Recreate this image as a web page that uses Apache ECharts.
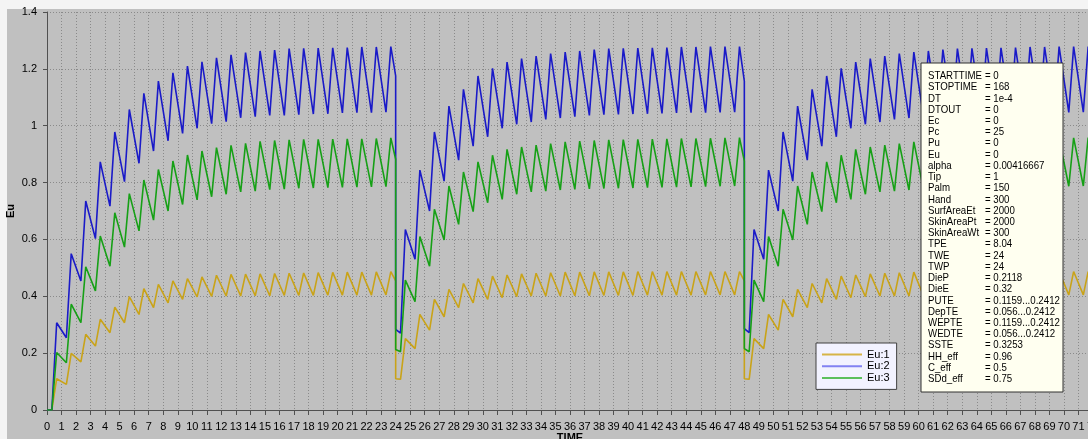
<!DOCTYPE html>
<html>
<head>
<meta charset="utf-8">
<script src="https://cdn.jsdelivr.net/npm/echarts@6/dist/echarts.min.js"></script>
<style>
  html, body { margin: 0; padding: 0; width: 1088px; height: 439px; overflow: hidden; background: #f4f4f4; }
  #chart { position: absolute; left: 0; top: 0; width: 1110px; height: 439px; }
</style>
</head>
<body>
<div id="chart"></div>
<script>
// ---- Data (Eu vs TIME, three 24 h days) ----
// Each day: value at day start, troughs at k+1/3 h, peaks at k+2/3 h (k = 0..23), value at day end
const seriesNames = ['Eu:1', 'Eu:2', 'Eu:3'];
const dayStarts = [0, 24, 48];
const xTicks = { min: 0, max: 72, interval: 1 };
const yTicks = { min: 0, max: 1.4, interval: 0.2 };

// Eu:1 (yellow)
const eu1Day1Start = 0;
const eu1Day1Troughs = [0, 0.090, 0.169, 0.225, 0.272, 0.307, 0.336, 0.360, 0.377, 0.389, 0.398, 0.400, 0.401, 0.401, 0.402, 0.402, 0.403, 0.403, 0.403, 0.404, 0.404, 0.404, 0.404, 0.405];
const eu1Day1Peaks = [0.110, 0.199, 0.266, 0.319, 0.362, 0.399, 0.427, 0.442, 0.454, 0.462, 0.468, 0.474, 0.477, 0.478, 0.479, 0.480, 0.481, 0.482, 0.483, 0.484, 0.485, 0.485, 0.486, 0.487];
const eu1Day1End = 0.454;
const eu1Day2Start = 0.110;
const eu1Day2Troughs = [0.108, 0.216, 0.281, 0.328, 0.360, 0.377, 0.389, 0.395, 0.399, 0.401, 0.401, 0.401, 0.402, 0.402, 0.403, 0.403, 0.403, 0.404, 0.404, 0.404, 0.404, 0.405, 0.405, 0.405];
const eu1Day2Peaks = [0.251, 0.336, 0.389, 0.424, 0.445, 0.462, 0.471, 0.475, 0.479, 0.481, 0.483, 0.485, 0.485, 0.486, 0.486, 0.486, 0.487, 0.487, 0.487, 0.487, 0.487, 0.487, 0.487, 0.487];
const eu1Day2End = 0.454;
const eu1Day3Start = 0.110;
const eu1Day3Troughs = [0.108, 0.216, 0.281, 0.328, 0.360, 0.377, 0.389, 0.395, 0.399, 0.401, 0.401, 0.401, 0.402, 0.402, 0.403, 0.403, 0.403, 0.404, 0.404, 0.404, 0.404, 0.405, 0.405, 0.405];
const eu1Day3Peaks = [0.251, 0.336, 0.389, 0.424, 0.445, 0.462, 0.471, 0.475, 0.479, 0.481, 0.483, 0.485, 0.485, 0.486, 0.486, 0.486, 0.487, 0.487, 0.487, 0.487, 0.487, 0.487, 0.487, 0.487];
const eu1Day3End = 0.454;

// Eu:2 (blue)
const eu2Day1Start = 0;
const eu2Day1Troughs = [0, 0.254, 0.454, 0.603, 0.717, 0.803, 0.868, 0.911, 0.947, 0.973, 0.991, 1.007, 1.014, 1.028, 1.032, 1.036, 1.036, 1.039, 1.041, 1.042, 1.045, 1.046, 1.046, 1.048];
const eu2Day1Peaks = [0.307, 0.550, 0.735, 0.873, 0.978, 1.057, 1.114, 1.157, 1.186, 1.210, 1.225, 1.239, 1.249, 1.257, 1.263, 1.266, 1.271, 1.272, 1.273, 1.274, 1.275, 1.277, 1.277, 1.278];
const eu2Day1End = 1.175;
const eu2Day2Start = 0.284;
const eu2Day2Troughs = [0.270, 0.530, 0.700, 0.805, 0.879, 0.928, 0.961, 0.991, 1.005, 1.013, 1.022, 1.027, 1.032, 1.036, 1.039, 1.040, 1.041, 1.042, 1.043, 1.045, 1.046, 1.046, 1.047, 1.048];
const eu2Day2Peaks = [0.635, 0.844, 0.978, 1.069, 1.128, 1.175, 1.202, 1.224, 1.236, 1.245, 1.254, 1.259, 1.263, 1.268, 1.271, 1.272, 1.273, 1.274, 1.275, 1.277, 1.277, 1.278, 1.278, 1.278];
const eu2Day2End = 1.157;
const eu2Day3Start = 0.286;
const eu2Day3Troughs = [0.272, 0.530, 0.700, 0.805, 0.879, 0.928, 0.961, 0.991, 1.005, 1.013, 1.022, 1.027, 1.032, 1.036, 1.039, 1.040, 1.041, 1.042, 1.043, 1.045, 1.046, 1.046, 1.047, 1.048];
const eu2Day3Peaks = [0.635, 0.844, 0.978, 1.069, 1.128, 1.175, 1.202, 1.224, 1.236, 1.245, 1.254, 1.259, 1.263, 1.268, 1.271, 1.272, 1.273, 1.274, 1.275, 1.277, 1.277, 1.278, 1.278, 1.278];
const eu2Day3End = 1.157;

// Eu:3 (green)
const eu3Day1Start = 0;
const eu3Day1Troughs = [0, 0.166, 0.307, 0.419, 0.506, 0.573, 0.630, 0.668, 0.700, 0.723, 0.739, 0.750, 0.759, 0.767, 0.770, 0.775, 0.777, 0.780, 0.781, 0.782, 0.783, 0.784, 0.785, 0.786];
const eu3Day1Peaks = [0.202, 0.372, 0.504, 0.612, 0.694, 0.761, 0.809, 0.846, 0.876, 0.897, 0.911, 0.923, 0.931, 0.938, 0.945, 0.948, 0.950, 0.952, 0.952, 0.953, 0.954, 0.954, 0.955, 0.957];
const eu3Day1End = 0.882;
const eu3Day2Start = 0.213;
const eu3Day2Troughs = [0.205, 0.381, 0.506, 0.598, 0.653, 0.698, 0.729, 0.741, 0.759, 0.767, 0.770, 0.774, 0.776, 0.778, 0.779, 0.780, 0.781, 0.782, 0.783, 0.784, 0.785, 0.786, 0.787, 0.788];
const eu3Day2Peaks = [0.457, 0.610, 0.706, 0.788, 0.837, 0.873, 0.896, 0.917, 0.925, 0.932, 0.937, 0.943, 0.946, 0.948, 0.950, 0.951, 0.952, 0.953, 0.954, 0.955, 0.955, 0.956, 0.957, 0.958];
const eu3Day2End = 0.876;
const eu3Day3Start = 0.216;
const eu3Day3Troughs = [0.205, 0.381, 0.506, 0.598, 0.653, 0.698, 0.729, 0.741, 0.759, 0.767, 0.770, 0.774, 0.776, 0.778, 0.779, 0.780, 0.781, 0.782, 0.783, 0.784, 0.785, 0.786, 0.787, 0.788];
const eu3Day3Peaks = [0.457, 0.610, 0.706, 0.788, 0.837, 0.873, 0.896, 0.917, 0.925, 0.932, 0.937, 0.943, 0.946, 0.948, 0.950, 0.951, 0.952, 0.953, 0.954, 0.955, 0.955, 0.956, 0.957, 0.958];
const eu3Day3End = 0.876;

// Parameter box text
const paramNames = ['STARTTIME', 'STOPTIME', 'DT', 'DTOUT', 'Ec', 'Pc', 'Pu', 'Eu', 'alpha', 'Tip', 'Palm', 'Hand', 'SurfAreaEt', 'SkinAreaPt', 'SkinAreaWt', 'TPE', 'TWE', 'TWP', 'DieP', 'DieE', 'PUTE', 'DepTE', 'WEPTE', 'WEDTE', 'SSTE', 'HH_eff', 'C_eff', 'SDd_eff'];
const paramValues = ['0', '168', '1e-4', '0', '0', '25', '0', '0', '0.00416667', '1', '150', '300', '2000', '2000', '300', '8.04', '24', '24', '0.2118', '0.32', '0.1159...0.2412', '0.056...0.2412', '0.1159...0.2412', '0.056...0.2412', '0.3253', '0.96', '0.5', '0.75'];

// ---- Build ----
const TROUGH_OFF = 1 / 3, PEAK_OFF = 2 / 3;
function buildPoints(days) {
  const pts = [];
  days.forEach(function (d, i) {
    const t0 = dayStarts[i];
    pts.push([t0, d[0]]);
    for (let k = 0; k < 24; k++) {
      pts.push([t0 + k + TROUGH_OFF, d[1][k]]);
      pts.push([t0 + k + PEAK_OFF, d[2][k]]);
    }
    pts.push([t0 + 24, d[3]]);
  });
  return pts;
}
const eu1 = buildPoints([[eu1Day1Start, eu1Day1Troughs, eu1Day1Peaks, eu1Day1End], [eu1Day2Start, eu1Day2Troughs, eu1Day2Peaks, eu1Day2End], [eu1Day3Start, eu1Day3Troughs, eu1Day3Peaks, eu1Day3End]]);
const eu2 = buildPoints([[eu2Day1Start, eu2Day1Troughs, eu2Day1Peaks, eu2Day1End], [eu2Day2Start, eu2Day2Troughs, eu2Day2Peaks, eu2Day2End], [eu2Day3Start, eu2Day3Troughs, eu2Day3Peaks, eu2Day3End]]);
const eu3 = buildPoints([[eu3Day1Start, eu3Day1Troughs, eu3Day1Peaks, eu3Day1End], [eu3Day2Start, eu3Day2Troughs, eu3Day2Peaks, eu3Day2End], [eu3Day3Start, eu3Day3Troughs, eu3Day3Peaks, eu3Day3End]]);

const lineColors = ['#c9a318', '#1a1ac8', '#16a016'];
const legendColors = ['#d6b447', '#8282f2', '#5cc05c'];
const FONT = '"Liberation Sans", Arial, sans-serif';

const chart = echarts.init(document.getElementById('chart'), null, { renderer: 'canvas' });
const paramLineH = 11.22;
const textStyleBase = { fontFamily: FONT, fontSize: 11, lineHeight: paramLineH, fill: '#000' };
chart.setOption({
  animation: false,
  backgroundColor: '#f4f4f4',
  grid: { left: 47, right: 17, top: 12, bottom: 29, containLabel: false, outerBoundsMode: 'none' },
  xAxis: {
    type: 'value', min: xTicks.min, max: xTicks.max, interval: xTicks.interval,
    offset: 6,
    name: 'TIME', nameLocation: 'middle', nameGap: 16, nameMoveOverlap: false,
    nameTextStyle: { fontFamily: FONT, fontSize: 11, fontWeight: 'bold', color: '#000' },
    axisLine: { show: true, lineStyle: { color: '#505050', width: 1 } },
    axisTick: { show: true, length: 5, lineStyle: { color: '#505050' } },
    axisLabel: { fontFamily: FONT, fontSize: 11, color: '#000', margin: 5, showMaxLabel: true },
    splitLine: { show: true, lineStyle: { color: '#8a8a8a', type: [1, 2], width: 1 } }
  },
  yAxis: {
    type: 'value', min: yTicks.min, max: yTicks.max, interval: yTicks.interval,
    offset: 5,
    name: 'Eu', nameLocation: 'middle', nameGap: 26, nameRotate: 90, nameMoveOverlap: false,
    nameTextStyle: { fontFamily: FONT, fontSize: 11, fontWeight: 'bold', color: '#000' },
    axisLine: { show: true, lineStyle: { color: '#505050', width: 1 } },
    axisTick: { show: true, length: 4, lineStyle: { color: '#505050' } },
    axisLabel: { fontFamily: FONT, fontSize: 11, color: '#000', margin: 5 },
    splitLine: { show: true, lineStyle: { color: '#8a8a8a', type: [1, 2], width: 1 } }
  },
  legend: {
    orient: 'vertical', left: 816, top: 343,
    backgroundColor: '#f2f2ff', borderColor: '#404040', borderWidth: 1,
    padding: [6, 7, 6, 6], itemGap: 0.7, itemWidth: 40, itemHeight: 2, icon: 'rect',
    textStyle: { fontFamily: FONT, fontSize: 11, color: '#000', lineHeight: 11 },
    data: seriesNames.map(function (n, i) { return { name: n, itemStyle: { color: legendColors[i] } }; })
  },
  series: [eu1, eu2, eu3].map(function (d, i) {
    return {
      name: seriesNames[i], type: 'line', data: d, showSymbol: false, symbol: 'none',
      lineStyle: { color: lineColors[i], width: 1.6 }, itemStyle: { color: lineColors[i] },
      z: 2 + i
    };
  }),
  graphic: [
    { type: 'rect', z: -100, silent: true, shape: { x: 7, y: 9, width: 1110, height: 440 }, style: { fill: '#c0c0c0' } },
    { type: 'rect', z: 100, zlevel: 1, shape: { x: 921, y: 63, width: 142, height: 329 }, style: { fill: '#fffff0', stroke: '#303030', lineWidth: 1 } },
    { type: 'text', z: 101, zlevel: 1, x: 928, y: 70.5, scaleX: 0.88, style: Object.assign({ text: paramNames.join('\n') }, textStyleBase) },
    { type: 'text', z: 101, zlevel: 1, x: 985, y: 70.5, scaleX: 0.88, style: Object.assign({ text: paramValues.map(function (v) { return '= ' + v; }).join('\n') }, textStyleBase) }
  ]
});
</script>
</body>
</html>
